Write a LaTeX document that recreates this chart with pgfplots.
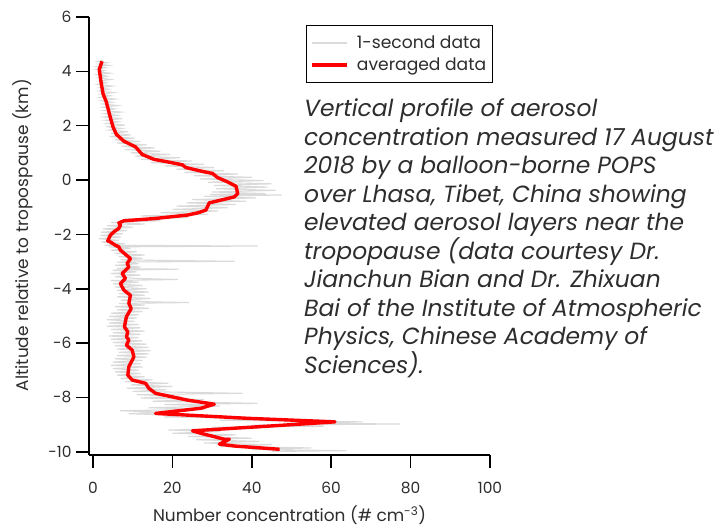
\documentclass[border=0pt]{standalone}
\usepackage{fontspec}
\setmainfont{Poppins}
\usepackage{pgfplots}
\pgfplotsset{compat=1.18}
\definecolor{lgray}{RGB}{218,218,218}
\definecolor{txt}{RGB}{45,45,45}
\begin{document}
\begin{tikzpicture}
\useasboundingbox (0bp,0bp) rectangle (716bp,527bp);
\begin{axis}[
 at={(89bp,72bp)}, anchor=south west,
 scale only axis, width=401bp, height=438bp,
 xmin=-1.0, xmax=100, ymin=-10.12, ymax=6,
 axis lines*=left,
 axis line style={line width=1.2bp, black},
 xtick pos=left, ytick pos=left,
 tick align=outside,
 major tick length=12.5bp,
 major tick style={line width=1.6bp, black},
 xtick={0,20,...,100}, ytick={-10,-8,...,6},
 /pgf/number format/assume math mode=true,
 ticklabel style={font=\fontsize{15.5}{18}\selectfont, text=txt},
 xticklabel style={yshift=-11bp},
 yticklabel style={xshift=-1.5bp},
 xlabel={Number concentration (\# cm\textsuperscript{-3})},
 ylabel={Altitude relative to tropospause (km)},
 label style={font=\fontsize{17}{20}\selectfont, text=txt},
 xlabel style={at={(axis description cs:0.5,-0.152)}, anchor=base},
 ylabel style={at={(axis description cs:-0.165,0.502)}, anchor=center},
 legend style={at={(axis description cs:0.5413,0.9807)}, anchor=north west,
   draw=black, line width=1bp, font=\fontsize{17.2}{21}\selectfont, text=txt,
   inner xsep=4bp, inner ysep=8bp, row sep=4bp},
 legend cell align=left,
 legend image code/.code={\draw[#1] (0bp,0bp) -- (35bp,0bp); \path (41bp,0bp);},
]
\addplot[lgray, line width=1.1bp] coordinates {
(2.5,4.40)(1.2,4.36)(3.5,4.32)(1.5,4.27)(4.0,4.22)(1.0,4.18)(3.2,4.13)(0.8,4.08)(2.8,4.03)(1.3,3.98)
(4.2,3.93)(1.1,3.88)(3.6,3.82)(1.4,3.76)(4.5,3.70)(1.6,3.64)(3.4,3.58)(1.2,3.52)(4.8,3.46)(1.8,3.40)
(3.9,3.34)(1.5,3.28)(5.2,3.22)(2.0,3.16)(4.4,3.10)(1.9,3.04)(5.6,2.98)(2.2,2.92)(4.9,2.86)(2.5,2.80)
(6.2,2.74)(2.4,2.68)(5.5,2.62)(2.9,2.56)(7.0,2.50)(3.0,2.44)(6.1,2.38)(2.8,2.32)(7.4,2.26)(3.3,2.20)
(6.5,2.14)(3.6,2.08)(8.0,2.02)(3.4,1.96)(7.2,1.90)(4.0,1.84)(8.8,1.78)(4.5,1.72)(9.5,1.66)(4.2,1.60)
(10.5,1.54)(5.5,1.48)(12.0,1.42)(6.0,1.36)(13.5,1.30)(7.2,1.24)(15.5,1.18)(8.0,1.12)(17.0,1.06)(9.5,1.00)
(19.5,0.94)(10.5,0.88)(22.0,0.82)(12.0,0.76)(25.0,0.70)(14.5,0.64)(28.0,0.58)(18.0,0.52)(30.5,0.46)(21.0,0.40)
(33.0,0.34)(23.0,0.28)(36.5,0.22)(25.5,0.16)(40.0,0.10)(27.0,0.04)(43.0,-0.02)(29.0,-0.08)(45.0,-0.14)(30.5,-0.20)
(44.0,-0.26)(31.0,-0.32)(46.0,-0.38)(30.0,-0.44)(43.5,-0.50)(29.5,-0.53)(47.5,-0.55)(28.0,-0.60)(41.0,-0.66)(25.0,-0.72)
(38.5,-0.78)(23.5,-0.84)(36.0,-0.90)(21.0,-0.96)(34.0,-1.02)(20.0,-1.08)(31.5,-1.14)(17.0,-1.20)(29.0,-1.26)(12.0,-1.32)
(24.0,-1.38)(8.0,-1.44)(17.0,-1.50)(4.5,-1.56)(13.0,-1.62)(3.5,-1.68)(10.0,-1.74)(2.5,-1.80)(8.5,-1.86)(2.0,-1.92)
(7.5,-1.98)(1.8,-2.04)(7.0,-2.10)(1.5,-2.16)(6.5,-2.22)(2.2,-2.28)(8.0,-2.34)(3.0,-2.40)(41.5,-2.43)(4.0,-2.46)
(9.5,-2.52)(4.5,-2.58)(11.0,-2.64)(5.5,-2.70)(13.0,-2.76)(6.5,-2.82)(12.5,-2.88)(7.0,-2.94)(35.6,-2.99)(6.0,-3.02)
(11.5,-3.08)(5.5,-3.14)(12.0,-3.20)(6.0,-3.26)(21.7,-3.28)(5.0,-3.32)(11.0,-3.38)(4.5,-3.44)(12.0,-3.50)(5.5,-3.56)
(10.5,-3.62)(21.4,-3.66)(4.5,-3.70)(11.5,-3.76)(5.0,-3.82)(12.5,-3.88)(5.5,-3.94)(13.5,-4.00)(6.0,-4.06)(14.0,-4.12)
(6.5,-4.18)(13.0,-4.24)(6.0,-4.30)(14.5,-4.36)(7.0,-4.42)(13.5,-4.48)(24.2,-4.51)(6.5,-4.54)(13.0,-4.60)(5.5,-4.66)
(14.0,-4.72)(6.0,-4.78)(12.5,-4.84)(4.5,-4.90)(11.5,-4.96)(4.0,-5.02)(11.0,-5.08)(3.5,-5.14)(10.5,-5.20)(4.0,-5.26)
(11.5,-5.32)(3.5,-5.38)(12.0,-5.44)(4.5,-5.50)(13.0,-5.56)(5.0,-5.62)(12.0,-5.68)(4.0,-5.74)(11.5,-5.80)(4.5,-5.86)
(12.5,-5.92)(5.0,-5.98)(13.5,-6.04)(5.5,-6.10)(14.0,-6.16)(6.0,-6.22)(14.5,-6.28)(6.5,-6.34)(14.0,-6.40)(6.0,-6.46)
(13.5,-6.52)(5.5,-6.58)(12.5,-6.64)(5.0,-6.70)(12.0,-6.76)(4.5,-6.82)(12.5,-6.88)(5.0,-6.94)(11.5,-7.00)(5.5,-7.06)
(12.0,-7.12)(6.0,-7.18)(13.0,-7.24)(7.0,-7.30)(15.0,-7.36)(8.0,-7.42)(19.0,-7.48)(9.5,-7.54)(20.0,-7.60)(8.5,-7.66)
(18.5,-7.72)(10.0,-7.78)(37.7,-7.85)(11.0,-7.90)(22.0,-7.96)(12.0,-8.02)(28.0,-8.08)(15.0,-8.14)(41.5,-8.22)(18.0,-8.26)
(32.0,-8.32)(14.0,-8.38)(28.0,-8.44)(6.8,-8.49)(18.0,-8.55)(9.0,-8.60)(22.0,-8.66)(18.0,-8.72)(45.0,-8.78)(32.0,-8.84)
(68.0,-8.90)(48.0,-8.94)(77.4,-8.98)(40.0,-9.02)(58.0,-9.06)(30.0,-9.10)(42.0,-9.14)(19.0,-9.20)(32.0,-9.26)(20.0,-9.32)
(36.0,-9.38)(24.0,-9.44)(40.0,-9.50)(26.0,-9.56)(42.0,-9.62)(28.0,-9.68)(45.0,-9.74)(32.0,-9.80)(55.0,-9.86)(40.0,-9.92)
(63.8,-9.96)(45.0,-9.99)
};
\addlegendentry{1-second data}
\addplot[red, line width=3.4bp, line join=round] coordinates {
(2.28,4.37)(1.59,4.07)(2.03,3.61)(2.53,3.18)(3.37,2.87)(4.23,2.38)(5.06,1.95)(5.90,1.68)(7.77,1.43)(10.71,1.22)
(12.41,0.94)(15.37,0.76)(18.73,0.67)(22.53,0.56)(23.37,0.46)(27.16,0.33)(30.13,0.24)(31.39,0.09)(33.92,-0.07)(36.03,-0.23)
(36.46,-0.50)(35.62,-0.62)(32.23,-0.74)(29.29,-0.84)(28.43,-1.11)(26.33,-1.21)(23.80,-1.29)(15.37,-1.42)(7.77,-1.50)(6.51,-1.58)
(6.91,-1.66)(6.51,-1.78)(5.24,-1.91)(4.38,-2.03)(3.72,-2.24)(4.38,-2.28)(5.65,-2.40)(6.51,-2.46)(6.91,-2.58)(9.44,-2.89)
(8.61,-3.07)(9.04,-3.20)(7.34,-3.44)(8.18,-3.62)(6.91,-3.81)(7.77,-4.05)(9.44,-4.24)(9.04,-4.54)(9.62,-4.73)(8.43,-5.03)
(7.92,-5.40)(8.78,-5.59)(8.43,-5.77)(9.04,-5.89)(8.43,-6.08)(9.87,-6.26)(10.30,-6.51)(9.04,-6.87)(8.78,-7.18)(9.87,-7.36)
(13.24,-7.48)(14.10,-7.67)(15.77,-7.85)(23.80,-8.10)(30.56,-8.25)(27.16,-8.40)(15.77,-8.59)(38.99,-8.77)(60.94,-8.90)(48.28,-9.02)
(25.06,-9.23)(27.16,-9.32)(33.09,-9.54)(34.35,-9.54)(31.82,-9.72)(35.62,-9.79)(47.01,-9.91)
};
\addlegendentry{averaged data}
\end{axis}
\begin{scope}[font=\itshape\fontsize{23.5}{28}\selectfont, txt]
\node[anchor=base west, inner sep=0] at (304bp,410.3bp) {Vertical profile of aerosol};
\node[anchor=base west, inner sep=0] at (304bp,381.8bp) {concentration measured 17 August};
\node[anchor=base west, inner sep=0] at (304bp,353.3bp) {2018 by a balloon-borne POPS};
\node[anchor=base west, inner sep=0] at (304bp,324.8bp) {over Lhasa, Tibet, China showing};
\node[anchor=base west, inner sep=0] at (304bp,296.3bp) {elevated aerosol layers near the};
\node[anchor=base west, inner sep=0] at (304bp,267.8bp) {tropopause (data courtesy Dr.};
\node[anchor=base west, inner sep=0] at (304bp,239.3bp) {Jianchun Bian and Dr. Zhixuan};
\node[anchor=base west, inner sep=0] at (304bp,210.8bp) {Bai of the Institute of Atmospheric};
\node[anchor=base west, inner sep=0] at (304bp,182.3bp) {Physics, Chinese Academy of};
\node[anchor=base west, inner sep=0] at (304bp,153.8bp) {Sciences).};
\end{scope}
\end{tikzpicture}
\end{document}
